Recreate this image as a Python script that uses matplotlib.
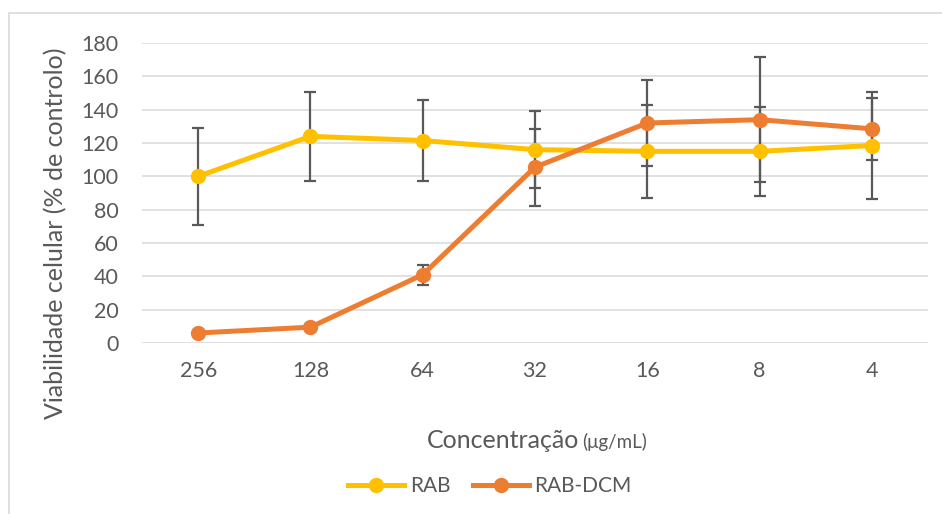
import numpy as np
import matplotlib
matplotlib.use("Agg")
import matplotlib.pyplot as plt
from matplotlib.lines import Line2D
from matplotlib.patches import Rectangle

plt.rcParams["font.family"] = ["Lato", "DejaVu Sans"]

# ---------------------------------------------------------------------------
# Data
# ---------------------------------------------------------------------------
concentrations = ["256", "128", "64", "32", "16", "8", "4"]
rab = [100, 124, 121.5, 116, 115, 115, 118.5]
rab_err = [29, 26.5, 24.5, 23, 28, 26.5, 32]
rab_dcm = [6, 9.5, 41, 105.5, 132, 134, 128.5]
rab_dcm_err = [0.5, 1.5, 6, 23, 26, 37.5, 18.5]

YELLOW = "#FFC000"
ORANGE = "#ED7D31"
GREY_TXT = "#595959"
GRID = "#D9D9D9"

W, H = 942, 514
fig = plt.figure(figsize=(W / 100, H / 100), dpi=100)

# chart frame (light border, continues past the image edge)
fig.patches.append(Rectangle((9 / W, -0.1), 1.2, 1 - 13 / H + 0.1,
                             transform=fig.transFigure, fill=False,
                             edgecolor=GRID, lw=1.2))

ax = fig.add_axes([142 / W, 1 - 343 / H, (928 - 142) / W, 300 / H])
x = np.arange(len(concentrations))

ax.errorbar(x, rab, yerr=rab_err, fmt="none", ecolor=GREY_TXT,
            elinewidth=1.6, capsize=4.3, capthick=1.6, zorder=2)
ax.errorbar(x, rab_dcm, yerr=rab_dcm_err, fmt="none", ecolor=GREY_TXT,
            elinewidth=1.6, capsize=4.3, capthick=1.6, zorder=2)
ax.plot(x, rab, color=YELLOW, lw=3.6, marker="o", ms=10,
        solid_capstyle="round", zorder=3)
ax.plot(x, rab_dcm, color=ORANGE, lw=3.6, marker="o", ms=10,
        solid_capstyle="round", zorder=4)

ax.set_xlim(-0.5, len(concentrations) - 0.5)
ax.set_ylim(0, 180)
ax.set_yticks(np.arange(0, 181, 20))
ax.set_xticks(x)
ax.set_xticklabels(concentrations)
ax.tick_params(axis="both", length=0, labelsize=15.5, colors=GREY_TXT)
ax.tick_params(axis="y", pad=17)
ax.tick_params(axis="x", pad=13)
ax.grid(axis="y", color=GRID, lw=1.1)
ax.set_axisbelow(True)
for s in ax.spines.values():
    s.set_visible(False)

# axis titles
fig.text(56 / W, 1 - 233 / H, "Viabilidade celular (% de controlo)",
         rotation=90, ha="center", va="center", fontsize=18, color=GREY_TXT)
fig.text(579 / W, 1 - 441 / H, "Concentração", ha="right", va="center",
         fontsize=18, color=GREY_TXT)
fig.text(582 / W, 1 - 442 / H, "(μg/mL)", ha="left", va="center",
         fontsize=13.5, color=GREY_TXT)

handles = [
    Line2D([0], [0], color=YELLOW, lw=3.6, marker="o", ms=10, label="RAB"),
    Line2D([0], [0], color=ORANGE, lw=3.6, marker="o", ms=10, label="RAB-DCM"),
]
leg = fig.legend(handles=handles, loc="center", ncol=2,
                 bbox_to_anchor=(490 / W, 1 - 486 / H), frameon=False,
                 fontsize=15, handlelength=2.7, handletextpad=0.25,
                 columnspacing=1.1)
for t in leg.get_texts():
    t.set_color(GREY_TXT)

fig.savefig("out.png", dpi=100)
